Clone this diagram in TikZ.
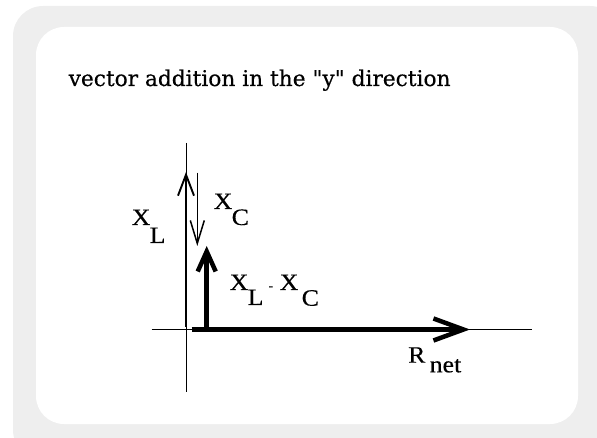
\documentclass[tikz,border=0pt]{standalone}
\usepackage{fontspec}
\setmainfont{Liberation Serif}
\newfontfamily\labelfont[FakeBold=0.35]{Liberation Serif}
\newfontfamily\titlefont[FakeBold=0.4]{DejaVu Serif}
\usetikzlibrary{arrows.meta}
\definecolor{panelgray}{HTML}{EEEEEE}
\newcommand{\wide}[1]{\scalebox{1.1}[1]{#1}}
\tikzset{
  axisline/.style={line width=1pt, black},
  thinvec/.style={line width=1.9pt, -{Straight Barb[length=21pt,width=16pt]}},
  thickvec/.style={line width=4.5pt, -{Straight Barb[length=20pt,width=18pt]}},
  bigvec/.style={line width=4.5pt, -{Straight Barb[length=30pt,width=22pt]}},
  lab/.style={inner sep=0pt, anchor=base west, font=\labelfont\fontsize{23.5}{27}\selectfont},
  smalllab/.style={inner sep=0pt, anchor=base west, font=\labelfont\fontsize{13}{15}\selectfont},
  titletext/.style={inner sep=0pt, anchor=base west, font=\titlefont\fontsize{21.7}{26}\selectfont}
}
\begin{document}
\begin{tikzpicture}[x=1pt,y=-1pt]
\useasboundingbox (0,0) rectangle (597,438);
% panels
\fill[panelgray, rounded corners=30pt] (13,6) rectangle (620,460);
\fill[white, rounded corners=28pt] (36,27) rectangle (578,424);
% title
\node[titletext] (title) at (68.5,86) {vector addition in the "y" direction};
% axis coordinates
\coordinate (vtop) at (186,143);
\coordinate (vbot) at (186,392);
\coordinate (hleft) at (151.7,329.5);
\coordinate (hright) at (532,329.5);
\draw[axisline] (vtop) -- (vbot);
\draw[axisline] (hleft) -- (hright);
% vectors
\coordinate (xlstart) at (186,327);
\coordinate (xltip) at (186,172);
\coordinate (xcstart) at (197.3,172.7);
\coordinate (xctip) at (197.3,246);
\coordinate (dstart) at (206.7,331.5);
\coordinate (dtip) at (206.7,246);
\coordinate (rstart) at (191.7,329.5);
\coordinate (rtip) at (470,329.5);
\draw[thinvec] (xlstart) -- (xltip);
\draw[thinvec, line width=1.5pt, -{Straight Barb[length=23pt,width=14pt]}] (xcstart) -- (xctip);
\draw[thickvec] (dstart) -- (dtip);
\draw[bigvec] (rstart) -- (rtip);
% labels
\node[lab] (xlX) at (131.5,225) {\wide{X}};
\node[lab] (xlL) at (149.5,243) {\wide{L}};
\node[lab] (xcX) at (213.5,209) {\wide{X}};
\node[lab] (xcC) at (231.5,225) {\wide{C}};
\node[lab] (dX1) at (229.5,290) {\wide{X}};
\node[lab] (dL) at (247.5,305) {\wide{L}};
\node[smalllab] (dminus) at (268.5,290) {-};
\node[lab] (dX2) at (279.5,290) {\wide{X}};
\node[lab] (dC) at (301.5,305.7) {\wide{C}};
\node[lab] (rR) at (408,362.7) {\wide{R}};
\node[lab] (rnet) at (429.5,372.3) {\wide{net}};
\end{tikzpicture}
\end{document}
